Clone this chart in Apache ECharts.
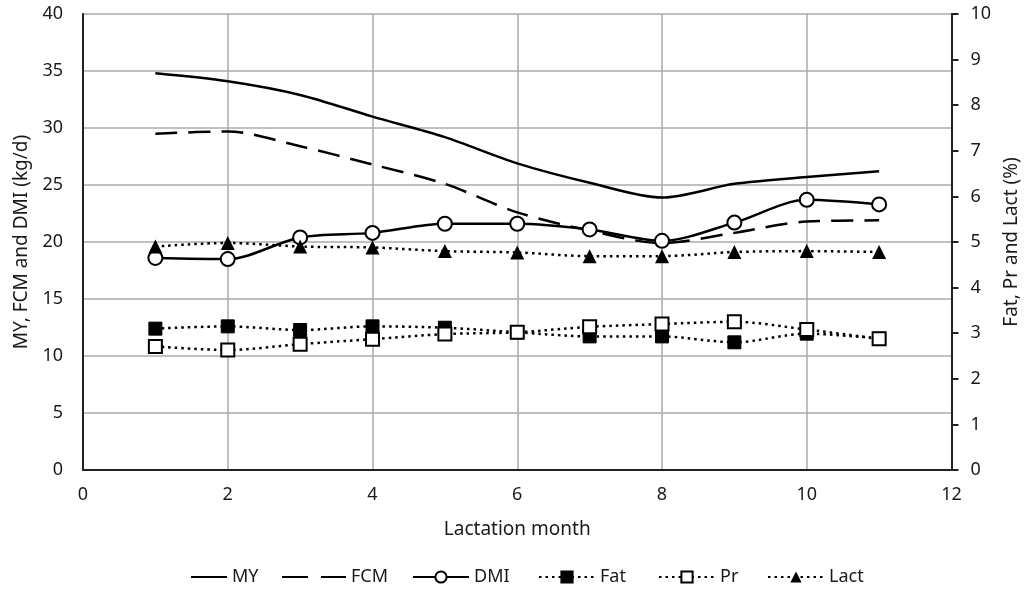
<!DOCTYPE html>
<html>
<head>
<meta charset="utf-8">
<script src="https://cdn.jsdelivr.net/npm/echarts@6/dist/echarts.min.js"></script>
<style>html,body{margin:0;padding:0;background:#fff}#c{width:1029px;height:590px}</style>
</head>
<body>
<div id="c"></div>
<script>
const months = [1,2,3,4,5,6,7,8,9,10,11];
const MY  = [34.8,34.1,32.9,31.0,29.2,26.9,25.2,23.9,25.1,25.7,26.2];
const FCM = [29.5,29.7,28.4,26.8,25.1,22.6,21.0,19.9,20.8,21.8,21.9];
const DMI = [18.6,18.5,20.4,20.8,21.6,21.6,21.1,20.1,21.7,23.7,23.3];
const Fat = [3.10,3.15,3.07,3.15,3.12,3.02,2.93,2.93,2.80,2.99,2.88];
const Pr  = [2.71,2.63,2.76,2.87,2.98,3.02,3.14,3.20,3.25,3.08,2.88];
const Lact= [4.90,4.98,4.90,4.88,4.80,4.77,4.69,4.69,4.78,4.80,4.78];
const seriesNames = ['MY','FCM','DMI','Fat','Pr','Lact'];
const leftTicks = {min:0,max:40,interval:5};
const rightTicks = {min:0,max:10,interval:1};
const xTicks = {min:0,max:12,interval:2};

const pairs = a => months.map((m,i)=>[m,a[i]]);
const font = 'Noto Sans';
const txt = '#1a1a1a';
const chart = echarts.init(document.getElementById('c'), null, {renderer:'canvas'});
const lineBase = {color:'#000', width:2.5};
const dotted = [2.5,4];
// legend layout (style): left position and icon width for each entry
const legendLayout = [
  {left:185, w:36},
  {left:276, w:64, lineStyle:{type:[26,13]}},
  {left:407, w:56},
  {left:533, w:56},
  {left:653, w:56},
  {left:762, w:56}
];
const legends = seriesNames.map((n,i)=>{
  const L = legendLayout[i];
  const o = {
    top:563, left:L.left, itemWidth:L.w, itemHeight:14, padding:5,
    textStyle:{fontFamily:font,fontSize:18,color:txt},
    data:[n]
  };
  if (L.lineStyle) o.lineStyle = L.lineStyle;
  return o;
});
chart.setOption({
  animation:false,
  backgroundColor:'#fff',
  textStyle:{fontFamily:font},
  grid:{left:83,right:76,top:14,bottom:120},
  legend:legends,
  xAxis:{
    type:'value', min:xTicks.min, max:xTicks.max, interval:xTicks.interval,
    name:'Lactation month', nameLocation:'middle', nameGap:50,
    nameTextStyle:{fontFamily:font,fontSize:19,color:txt},
    axisLine:{lineStyle:{color:'#222',width:2}},
    axisTick:{show:false},
    axisLabel:{fontFamily:font,fontSize:18,color:txt,margin:16},
    splitLine:{lineStyle:{color:'#ababab',width:1.5}}
  },
  yAxis:[{
    type:'value', min:leftTicks.min, max:leftTicks.max, interval:leftTicks.interval,
    name:'MY, FCM and DMI (kg/d)', nameLocation:'middle', nameGap:43,
    nameTextStyle:{fontFamily:font,fontSize:19,color:txt},
    axisLine:{show:true,lineStyle:{color:'#222',width:2}},
    axisTick:{show:false},
    axisLabel:{fontFamily:font,fontSize:18,color:txt,margin:20},
    splitLine:{lineStyle:{color:'#ababab',width:1.5}}
  },{
    type:'value', min:rightTicks.min, max:rightTicks.max, interval:rightTicks.interval,
    position:'right',
    name:'Fat, Pr and Lact (%)', nameLocation:'middle', nameGap:49, nameRotate:90,
    nameTextStyle:{fontFamily:font,fontSize:19,color:txt},
    axisLine:{show:true,lineStyle:{color:'#222',width:2}},
    axisTick:{show:true,length:7,lineStyle:{color:'#222',width:2}},
    axisLabel:{fontFamily:font,fontSize:18,color:txt,margin:19},
    splitLine:{show:false}
  }],
  series:[
    {name:'MY',type:'line',data:pairs(MY),smooth:0.3,symbol:'circle',showSymbol:false,lineStyle:{...lineBase},itemStyle:{color:'rgba(0,0,0,0)'}},
    {name:'FCM',type:'line',data:pairs(FCM),smooth:0.3,symbol:'circle',showSymbol:false,lineStyle:{...lineBase,type:[22,11]},itemStyle:{color:'rgba(0,0,0,0)'}},
    {name:'DMI',type:'line',data:pairs(DMI),smooth:0.3,symbol:'circle',symbolSize:14,showAllSymbol:true,lineStyle:{...lineBase},itemStyle:{color:'#fff',borderColor:'#000',borderWidth:2}},
    {name:'Fat',type:'line',yAxisIndex:1,data:pairs(Fat),smooth:0.3,symbol:'rect',symbolSize:13,lineStyle:{...lineBase,type:dotted},itemStyle:{color:'#000',borderColor:'#000',borderWidth:1}},
    {name:'Pr',type:'line',yAxisIndex:1,data:pairs(Pr),smooth:0.3,symbol:'rect',symbolSize:13,lineStyle:{...lineBase,type:dotted},itemStyle:{color:'#fff',borderColor:'#000',borderWidth:2}},
    {name:'Lact',type:'line',yAxisIndex:1,data:pairs(Lact),smooth:0.3,symbol:'triangle',symbolSize:14,lineStyle:{...lineBase,type:dotted},itemStyle:{color:'#000'}}
  ]
});
</script>
</body>
</html>
